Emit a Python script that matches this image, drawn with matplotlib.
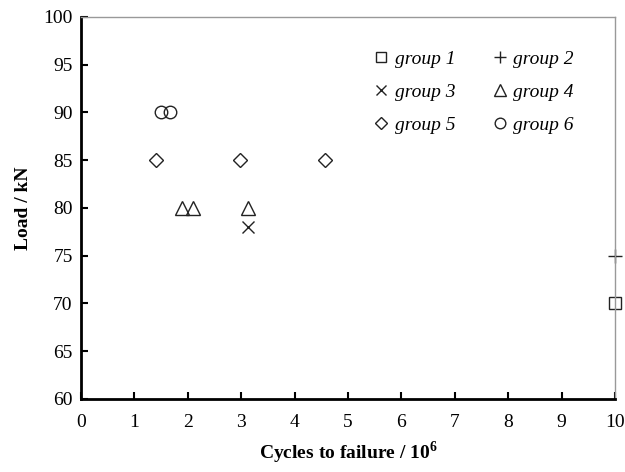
import matplotlib
matplotlib.use("Agg")
import matplotlib.pyplot as plt

# Data (cycles to failure in 10^6, load in kN)
g1_x = [10.0]; g1_y = [70]
g2_x = [10.0]; g2_y = [75]
g3_x = [3.12]; g3_y = [78]
g4_x = [1.90, 2.10, 3.13]; g4_y = [80, 80, 80]
g5_x = [1.40, 2.97, 4.57]; g5_y = [85, 85, 85]
g6_x = [1.50, 1.66]; g6_y = [90, 90]
labels = ["group 1", "group 2", "group 3", "group 4", "group 5", "group 6"]
xticks = list(range(0, 11))
yticks = list(range(60, 101, 5))

plt.rcParams['font.family'] = ['Liberation Serif', 'DejaVu Serif']
plt.rcParams['mathtext.fontset'] = 'custom'
plt.rcParams['mathtext.bf'] = 'Liberation Serif:bold'
plt.rcParams['mathtext.rm'] = 'Liberation Serif'

fig = plt.figure(figsize=(6.25, 4.72), dpi=100)
ax = fig.add_axes([0.1296, 0.1547, 0.8544, 0.8093])

series = [
    (g1_x, g1_y, 's', 9),
    (g2_x, g2_y, '+', 10),
    (g3_x, g3_y, 'x', 9),
    (g4_x, g4_y, '^', 10),
    (g5_x, g5_y, 'D', 7),
    (g6_x, g6_y, 'o', 9),
]
handles = []
for (xs, ys, m, s), lab in zip(series, labels):
    if m in ('+', 'x'):
        h, = ax.plot(xs, ys, linestyle='none', marker=m, markersize=s,
                     color='#222222', markeredgewidth=1.0, label=lab, clip_on=False)
    else:
        h, = ax.plot(xs, ys, linestyle='none', marker=m, markersize=s,
                     markerfacecolor='none', markeredgecolor='#222222',
                     markeredgewidth=1.0, label=lab, clip_on=False)
    handles.append(h)

ax.set_xlim(0, 10)
ax.set_ylim(60, 100)
ax.set_xticks(xticks)
ax.set_yticks(yticks)
ax.tick_params(axis='both', direction='in', labelsize=14, length=5, width=1.5,
               pad=6)
ax.tick_params(axis='x', pad=11)
for side in ('left', 'bottom'):
    ax.spines[side].set_linewidth(2.0)
    ax.spines[side].set_color('black')
for side in ('top', 'right'):
    ax.spines[side].set_linewidth(1.0)
    ax.spines[side].set_color('#999999')

ax.set_xlabel(r'Cycles to failure / 10$^{\mathbf{6}}$', fontsize=14, fontweight='bold', labelpad=6)
ax.set_ylabel('Load / kN', fontsize=14, fontweight='bold', labelpad=8)

order = [0, 2, 4, 1, 3, 5]
leg = ax.legend(handles=[handles[i] for i in order], ncol=2, frameon=False, loc='upper left',
                bbox_to_anchor=(0.518, 0.958), prop={'style': 'italic', 'size': 14},
                handlelength=0.6, handletextpad=0.4, columnspacing=2.0,
                labelspacing=0.78, markerscale=0.85)

fig.savefig('out.png', dpi=100)
